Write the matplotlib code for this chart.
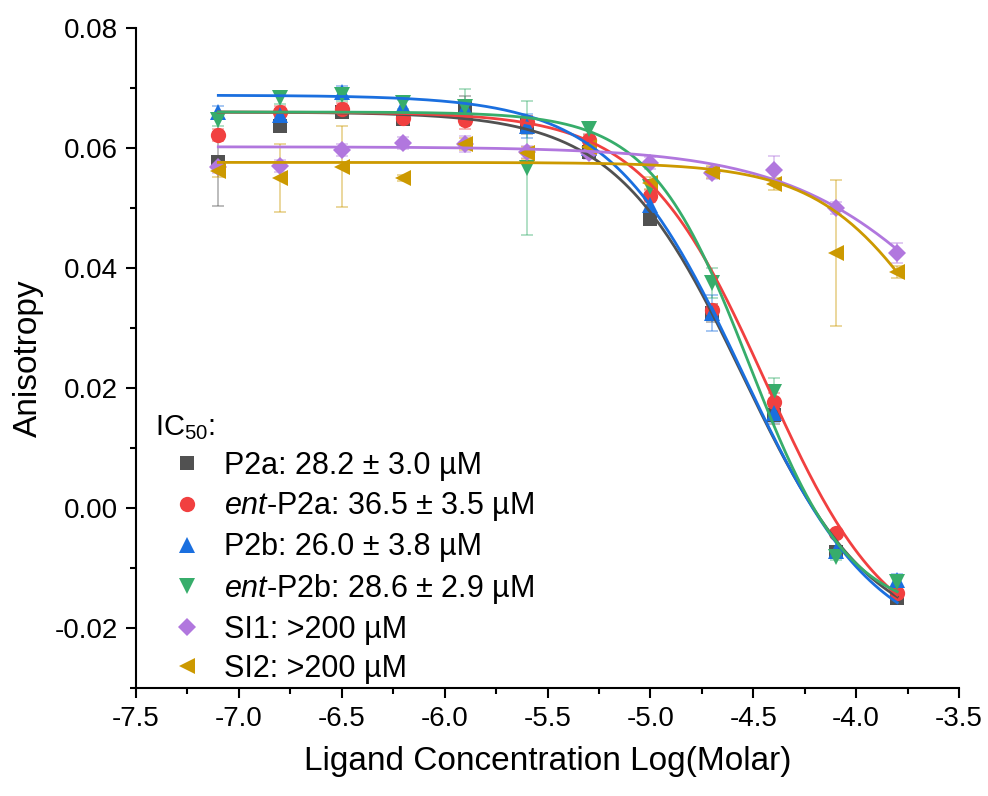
import matplotlib as mpl
mpl.use('Agg')
import matplotlib.pyplot as plt
from matplotlib.lines import Line2D
import numpy as np

plt.rcParams['font.family'] = ['Liberation Sans', 'DejaVu Sans']
plt.rcParams['mathtext.fontset'] = 'custom'
plt.rcParams['mathtext.rm'] = 'Liberation Sans'
plt.rcParams['mathtext.it'] = 'Liberation Sans:italic'
plt.rcParams['axes.unicode_minus'] = False

# log concentration (M)
log_conc = [-7.1, -6.8, -6.5, -6.2, -5.9, -5.6, -5.3, -5.0, -4.7, -4.4, -4.1, -3.8]

# anisotropy
p2a = [0.0577, 0.0637, 0.0660, 0.0648, 0.0667, 0.0638, 0.0593, 0.0482, 0.0325, 0.0155, -0.0073, -0.0150]
ent_p2a = [0.0622, 0.0660, 0.0665, 0.0650, 0.0647, 0.0644, 0.0613, 0.0520, 0.0330, 0.0177, -0.0042, -0.0142]
p2b = [0.0660, 0.0655, 0.0694, 0.0670, 0.0667, 0.0637, 0.0600, 0.0505, 0.0325, 0.0158, -0.0072, -0.0120]
ent_p2b = [0.0647, 0.0683, 0.0688, 0.0675, 0.0668, 0.0567, 0.0632, 0.0535, 0.0375, 0.0193, -0.0082, -0.0123]
si1 = [0.0569, 0.0570, 0.0596, 0.0609, 0.0607, 0.0594, 0.0592, 0.0575, 0.0558, 0.0563, 0.0500, 0.0425]
si2 = [0.0562, 0.0550, 0.0569, 0.0550, 0.0607, 0.0592, 0.0602, 0.0542, 0.0560, 0.0540, 0.0425, 0.0394]

# standard deviations
p2a_err = [0.0073, 0.0010, 0.0010, 0.0010, 0.0020, 0.0015, 0.0010, 0.0010, 0.0015, 0.0015, 0.0008, 0.0005]
ent_p2a_err = [0.0010, 0.0010, 0.0010, 0.0010, 0.0015, 0.0010, 0.0010, 0.0010, 0.0010, 0.0015, 0.0005, 0.0005]
p2b_err = [0.0010, 0.0010, 0.0010, 0.0010, 0.0010, 0.0020, 0.0010, 0.0010, 0.0030, 0.0015, 0.0008, 0.0010]
ent_p2b_err = [0.0010, 0.0009, 0.0010, 0.0010, 0.0030, 0.0112, 0.0010, 0.0010, 0.0025, 0.0024, 0.0005, 0.0008]
si1_err = [0.0010, 0.0010, 0.0010, 0.0010, 0.0013, 0.0010, 0.0010, 0.0010, 0.0010, 0.0023, 0.0010, 0.0017]
si2_err = [0.0010, 0.0057, 0.0067, 0.0005, 0.0010, 0.0010, 0.0010, 0.0010, 0.0010, 0.0010, 0.0122, 0.0010]

# dose-response fit parameters (top, bottom, logIC50, hill)
fit_top = [0.0660, 0.0660, 0.0688, 0.0660, 0.0602, 0.0576]
fit_bottom = [-0.022, -0.024, -0.024, -0.018, 0.0, 0.0]
fit_logx0 = [-4.55, -4.44, -4.55, -4.52, -3.40, -3.58]
fit_hill = [1.40, 1.45, 1.35, 1.80, 1.00, 1.50]

labels = ['P2a: 28.2 ± 3.0 µM',
          r'$\it{ent}$-P2a: 36.5 ± 3.5 µM',
          'P2b: 26.0 ± 3.8 µM',
          r'$\it{ent}$-P2b: 28.6 ± 2.9 µM',
          'SI1: >200 µM',
          'SI2: >200 µM']
colors = ['#515151', '#F14040', '#1A6FDF', '#37AD6B', '#B177DE', '#CC9900']
markers = ['s', 'o', '^', 'v', 'D', '<']
msizes = [10, 11, 11, 11, 9, 11]

series = [p2a, ent_p2a, p2b, ent_p2b, si1, si2]
errors = [p2a_err, ent_p2a_err, p2b_err, ent_p2b_err, si1_err, si2_err]

fig = plt.figure(figsize=(9.88, 7.96), dpi=100)
ax = fig.add_axes([136 / 988, 108 / 796, 823 / 988, 660 / 796])

xs = np.linspace(log_conc[0], log_conc[-1], 300)
handles = []
for i in range(len(series)):
    ecol = mpl.colors.to_rgba(colors[i], 0.45)
    ax.errorbar(log_conc, series[i], yerr=errors[i], fmt='none', ecolor=ecol,
                elinewidth=1.2, capsize=4, capthick=1.2, zorder=2)
    ax.plot(log_conc, series[i], linestyle='none', marker=markers[i], ms=msizes[i],
            color=colors[i], markeredgewidth=0, zorder=3)
    top, bot, x0, h = fit_top[i], fit_bottom[i], fit_logx0[i], fit_hill[i]
    ys = bot + (top - bot) / (1 + 10 ** ((xs - x0) * h))
    ax.plot(xs, ys, color=colors[i], lw=2, zorder=4)
    handles.append(Line2D([], [], linestyle='none', marker=markers[i], ms=msizes[i],
                          color=colors[i], markeredgewidth=0))

ax.set_xlim(-7.5, -3.5)
ax.set_ylim(-0.03, 0.08)
ax.set_xticks(np.arange(-7.5, -3.49, 0.5))
ax.set_xticks(np.arange(-7.25, -3.5, 0.5), minor=True)
ax.set_yticks([-0.02, 0.0, 0.02, 0.04, 0.06, 0.08])
ax.set_yticks([-0.03, -0.01, 0.01, 0.03, 0.05, 0.07], minor=True)
ax.xaxis.set_major_formatter(mpl.ticker.FormatStrFormatter('%.1f'))
ax.yaxis.set_major_formatter(mpl.ticker.FormatStrFormatter('%.2f'))

for s in ['top', 'right']:
    ax.spines[s].set_visible(False)
for s in ['left', 'bottom']:
    ax.spines[s].set_linewidth(1.5)
ax.tick_params(which='major', direction='out', length=7, width=1.5, labelsize=20, pad=6)
ax.tick_params(which='minor', direction='out', length=4, width=1.5)

ax.set_xlabel('Ligand Concentration Log(Molar)', fontsize=24, labelpad=10)
ax.set_ylabel('Anisotropy', fontsize=24, labelpad=8)

leg = ax.legend(handles, labels, loc='upper left', bbox_to_anchor=(0.008, 0.435),
                frameon=False, title='IC$_{50}$:', fontsize=22, title_fontsize=21,
                handlelength=2.1, handletextpad=0.15, labelspacing=0.3,
                borderaxespad=0)
leg._legend_box.align = 'left'

plt.savefig('out.png')
